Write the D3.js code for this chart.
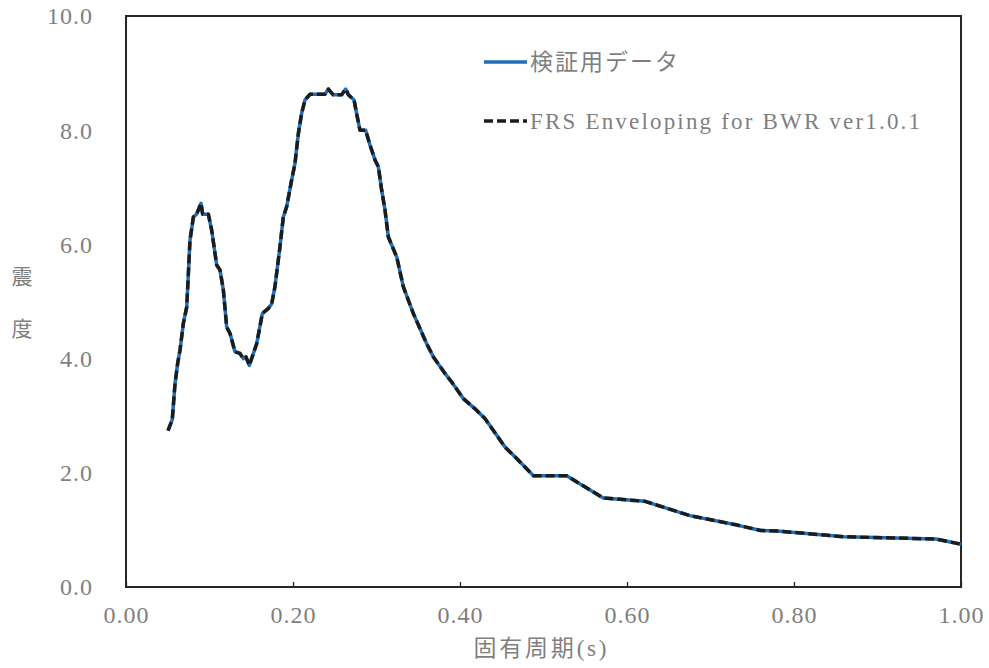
<!DOCTYPE html>
<html>
<head>
<meta charset="utf-8">
<script src="https://cdn.jsdelivr.net/npm/d3@7"></script>
<style>
  body { margin: 0; background: #fff; }
  svg text { font-family: "Liberation Serif", "Noto Sans CJK JP", serif; fill: #7f7f7f; }
</style>
</head>
<body>
<div id="chart"></div>
<script>
// periods (s)
const periods = [0.0503, 0.0554, 0.0587, 0.0619, 0.0647, 0.0687, 0.0727, 0.0747, 0.0766, 0.0807,
  0.0846, 0.0898, 0.0918, 0.0986, 0.1026, 0.1086, 0.1126, 0.1166, 0.1206, 0.1246,
  0.1305, 0.1365, 0.1405, 0.1437, 0.1477, 0.1525, 0.1565, 0.1633, 0.1705, 0.1745,
  0.1784, 0.1844, 0.1884, 0.1924, 0.1984, 0.2024, 0.2064, 0.2104, 0.2144, 0.2204,
  0.2383, 0.2423, 0.2483, 0.2583, 0.2631, 0.2663, 0.2731, 0.2762, 0.2802, 0.2870,
  0.2922, 0.2982, 0.3022, 0.3062, 0.3102, 0.3142, 0.3242, 0.3321, 0.3441, 0.3601,
  0.3681, 0.3820, 0.3900, 0.4040, 0.4180, 0.4299, 0.4539, 0.4679, 0.4878, 0.5277,
  0.5716, 0.6216, 0.6754, 0.7333, 0.7600, 0.7800, 0.8600, 0.9700, 1.0000]

// 検証用データ
const verifyValues = [2.74, 2.93, 3.56, 3.92, 4.15, 4.62, 4.90, 5.49, 6.07, 6.48,
  6.53, 6.72, 6.53, 6.53, 6.25, 5.64, 5.55, 5.20, 4.55, 4.44,
  4.12, 4.09, 4.00, 4.03, 3.88, 4.09, 4.26, 4.79, 4.88, 4.96,
  5.26, 5.96, 6.48, 6.66, 7.13, 7.42, 7.94, 8.30, 8.53, 8.63,
  8.63, 8.72, 8.62, 8.62, 8.72, 8.62, 8.53, 8.29, 8.00, 8.00,
  7.74, 7.48, 7.36, 6.95, 6.60, 6.13, 5.78, 5.26, 4.79, 4.26,
  4.03, 3.74, 3.59, 3.30, 3.12, 2.95, 2.45, 2.25, 1.95, 1.95,
  1.56, 1.50, 1.25, 1.08, 0.99, 0.98, 0.88, 0.84, 0.75]

// FRS Enveloping for BWR ver1.0.1 (same curve as the reference data)
const frsValues = [2.74, 2.93, 3.56, 3.92, 4.15, 4.62, 4.90, 5.49, 6.07, 6.48,
  6.53, 6.72, 6.53, 6.53, 6.25, 5.64, 5.55, 5.20, 4.55, 4.44,
  4.12, 4.09, 4.00, 4.03, 3.88, 4.09, 4.26, 4.79, 4.88, 4.96,
  5.26, 5.96, 6.48, 6.66, 7.13, 7.42, 7.94, 8.30, 8.53, 8.63,
  8.63, 8.72, 8.62, 8.62, 8.72, 8.62, 8.53, 8.29, 8.00, 8.00,
  7.74, 7.48, 7.36, 6.95, 6.60, 6.13, 5.78, 5.26, 4.79, 4.26,
  4.03, 3.74, 3.59, 3.30, 3.12, 2.95, 2.45, 2.25, 1.95, 1.95,
  1.56, 1.50, 1.25, 1.08, 0.99, 0.98, 0.88, 0.84, 0.75]

const xTicks = [0, 0.2, 0.4, 0.6, 0.8, 1.0]
const yTicks = [0, 2, 4, 6, 8, 10]
const seriesNames = ["検証用データ", "FRS Enveloping for BWR ver1.0.1"]

const w = 989
const h = 668
const plotL = 126, plotR = 961, plotT = 16, plotB = 587

const svg = d3.select('#chart')
  .append('svg')
  .attr('width', w)
  .attr('height', h)

const xScale = d3.scaleLinear().domain([0, 1]).range([plotL, plotR])
const yScale = d3.scaleLinear().domain([0, 10]).range([plotB, plotT])

// axes (inside ticks on x, labels nudged to sit like the original)
const xAxis = d3.axisBottom(xScale).tickValues(xTicks).tickSize(-5).tickFormat(d3.format(".2f"))
const yAxis = d3.axisLeft(yScale).tickValues(yTicks).tickSize(0).tickFormat(d3.format(".1f"))

const gx = svg.append('g')
  .attr('transform', 'translate(0,' + plotB + ')')
  .call(xAxis)
gx.select('.domain').remove()
gx.selectAll('line').attr('stroke', '#262626').attr('stroke-width', 1.3)
gx.selectAll('text')
  .attr('y', 36)
  .attr('dy', 0)
  .style('font-size', '24px')
  .style('letter-spacing', '1px')

const gy = svg.append('g')
  .attr('transform', 'translate(' + plotL + ',0)')
  .call(yAxis)
gy.select('.domain').remove()
gy.selectAll('text')
  .attr('x', -33)
  .attr('dy', '0.33em')
  .style('font-size', '24px')
  .style('letter-spacing', '1px')

// frame
svg.append('rect')
  .attr('x', plotL)
  .attr('y', plotT)
  .attr('width', plotR - plotL)
  .attr('height', plotB - plotT)
  .attr('fill', 'none')
  .attr('stroke', '#262626')
  .attr('stroke-width', 2)

// axis titles
svg.append('text')
  .attr('x', 540)
  .attr('y', 656)
  .attr('text-anchor', 'middle')
  .style('font-size', '23px')
  .attr('textLength', 133)
  .attr('lengthAdjust', 'spacing')
  .text('固有周期(s)')

const yTitle = ["震", "度"]
svg.selectAll('.ytitle')
  .data(yTitle)
  .enter()
  .append('text')
  .attr('class', 'ytitle')
  .attr('x', 22)
  .attr('y', (d, i) => 277 + i * 52)
  .attr('dy', '0.35em')
  .attr('text-anchor', 'middle')
  .style('font-size', '21px')
  .text(d => d)

// lines
const line = (vals) => d3.line()
  .x((d, i) => xScale(periods[i]))
  .y(d => yScale(d))(vals)

svg.append('path')
  .attr('d', line(verifyValues))
  .attr('fill', 'none')
  .attr('stroke', '#1f6fb8')
  .attr('stroke-width', 3.5)
  .attr('stroke-linejoin', 'round')

svg.append('path')
  .attr('d', line(frsValues))
  .attr('fill', 'none')
  .attr('stroke', '#1c1c1c')
  .attr('stroke-width', 3.5)
  .attr('stroke-dasharray', '9,4')
  .attr('stroke-linejoin', 'round')

// legend
const legend = svg.append('g')
legend.append('line')
  .attr('x1', 484).attr('x2', 527).attr('y1', 62).attr('y2', 62)
  .attr('stroke', '#1f6fb8').attr('stroke-width', 3.5)
legend.append('line')
  .attr('x1', 484).attr('x2', 527).attr('y1', 121).attr('y2', 121)
  .attr('stroke', '#1c1c1c').attr('stroke-width', 3.5)
  .attr('stroke-dasharray', '9,4')

legend.selectAll('text')
  .data(seriesNames)
  .enter()
  .append('text')
  .attr('x', 530)
  .attr('y', (d, i) => 62 + i * 59)
  .attr('dy', '0.35em')
  .style('font-size', '23px')
  .attr('textLength', (d, i) => i === 0 ? 148 : 390)
  .attr('lengthAdjust', 'spacing')
  .text(d => d)
</script>
</body>
</html>
